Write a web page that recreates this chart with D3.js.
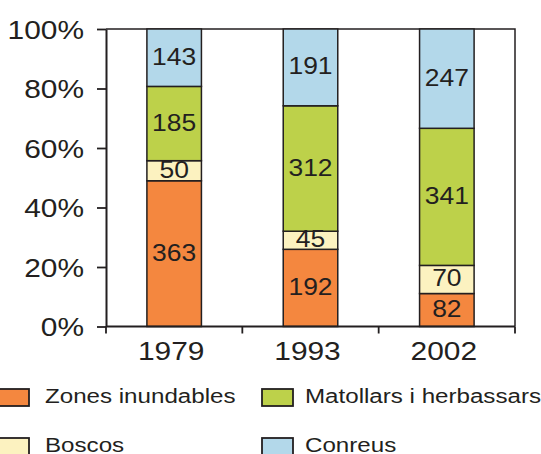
<!DOCTYPE html>
<html>
<head>
<meta charset="utf-8">
<script src="https://cdn.jsdelivr.net/npm/d3@7"></script>
<style>
  html, body { margin: 0; padding: 0; background: #fff; }
  svg { display: block; }
  text { font-family: "Liberation Sans", Arial, Helvetica, sans-serif; fill: #231f20; }
</style>
</head>
<body>
<svg id="chart" width="541" height="454"></svg>
<script>
// ---- data ----
const years = ["1979", "1993", "2002"];
const seriesNames = ["Zones inundables", "Boscos", "Matollars i herbassars", "Conreus"];
const zonesInundables = [363, 192, 82];
const boscos = [50, 45, 70];
const matollars = [185, 312, 341];
const conreus = [143, 191, 247];
const yTicks = [0, 0.2, 0.4, 0.6, 0.8, 1.0];
const colors = ["#f4873f", "#fcf2c0", "#bdd14a", "#b3d8ea"];
const legendOrder = [0, 2, 1, 3]; // row-major: Zones, Matollars / Boscos, Conreus

// ---- layout ----
const SX = 1.15; // horizontal stretch of the original typography
const ink = "#231f20";
const plotL = 106, plotR = 515, plotT = 29, plotB = 326.5;

const svg = d3.select("#chart");

const x = d3.scaleBand().domain(years).range([plotL, plotR]).paddingInner(0.6).paddingOuter(0.3);
const y = d3.scaleLinear().domain([0, 1]).range([plotB, plotT]);

// build stacked table
const table = years.map((yr, i) => ({
  year: yr,
  s0: zonesInundables[i], s1: boscos[i], s2: matollars[i], s3: conreus[i]
}));
const keys = ["s0", "s1", "s2", "s3"];
const stack = d3.stack().keys(keys).offset(d3.stackOffsetExpand);
const layers = stack(table);

// stretched text helper
function stretchedText(g, tx, ty, str, size, anchor) {
  return g.append("text")
    .attr("transform", `translate(${tx},${ty}) scale(${SX},1)`)
    .attr("text-anchor", anchor || "start")
    .attr("font-size", size)
    .text(str);
}

// frame (top & right)
svg.append("path")
  .attr("d", `M${plotL},${plotT}H${plotR}V${plotB}`)
  .attr("fill", "none").attr("stroke", ink).attr("stroke-width", 1.5);

// bars
layers.forEach((layer, li) => {
  const g = svg.append("g");
  g.selectAll("rect").data(layer).join("rect")
    .attr("x", d => x(d.data.year))
    .attr("y", d => y(d[1]))
    .attr("width", x.bandwidth())
    .attr("height", d => y(d[0]) - y(d[1]))
    .attr("fill", colors[li])
    .attr("stroke", ink)
    .attr("stroke-width", 1.5);
});
layers.forEach((layer) => {
  layer.forEach(d => {
    const cx = x(d.data.year) + x.bandwidth() / 2;
    const cy = (y(d[0]) + y(d[1])) / 2;
    stretchedText(svg, cx, cy + 7, d.data[layer.key], 23, "middle");
  });
});

// y axis
const yAxis = d3.axisLeft(y).tickValues(yTicks).tickFormat(d3.format(".0%")).tickSize(9).tickSizeOuter(0).tickPadding(0);
const gy = svg.append("g").attr("transform", `translate(${plotL},0)`).call(yAxis);
gy.select(".domain").attr("stroke", ink).attr("stroke-width", 2);
gy.selectAll(".tick line").attr("stroke", ink).attr("stroke-width", 1.8);
gy.selectAll(".tick text")
  .attr("x", null).attr("dy", null)
  .attr("font-size", 26)
  .attr("font-family", "Liberation Sans, Arial, sans-serif")
  .attr("fill", ink)
  .attr("text-anchor", "end")
  .attr("transform", `translate(-22,9) scale(${SX},1)`);

// x axis: line + ticks at band boundaries, labels centered
const gx = svg.append("g").attr("transform", `translate(0,${plotB})`);
gx.append("line").attr("x1", plotL).attr("x2", plotR).attr("y1", 0).attr("y2", 0)
  .attr("stroke", ink).attr("stroke-width", 2);
const boundaries = [plotL].concat(years.map(yr => x(yr) + x.bandwidth() + x.step() * x.paddingInner() / 2));
boundaries[boundaries.length - 1] = plotR;
gx.selectAll(".btick").data(boundaries).join("line")
  .attr("x1", d => d).attr("x2", d => d).attr("y1", 0).attr("y2", 7)
  .attr("stroke", ink).attr("stroke-width", 1.8);
years.forEach(yr => {
  stretchedText(gx, x(yr) + x.bandwidth() / 2 - 3, 33, yr, 26, "middle");
});

// legend
const legPos = [[-2, 389], [262, 389], [-2, 438], [262, 438]];
legendOrder.forEach((si, k) => {
  const [lx, ly] = legPos[k];
  svg.append("rect").attr("x", lx).attr("y", ly).attr("width", 31).attr("height", 17)
    .attr("fill", colors[si]).attr("stroke", ink).attr("stroke-width", 1.8);
  stretchedText(svg, lx + (lx < 0 ? 47 : 43), ly + 14, seriesNames[si], 21, "start");
});
</script>
</body>
</html>
